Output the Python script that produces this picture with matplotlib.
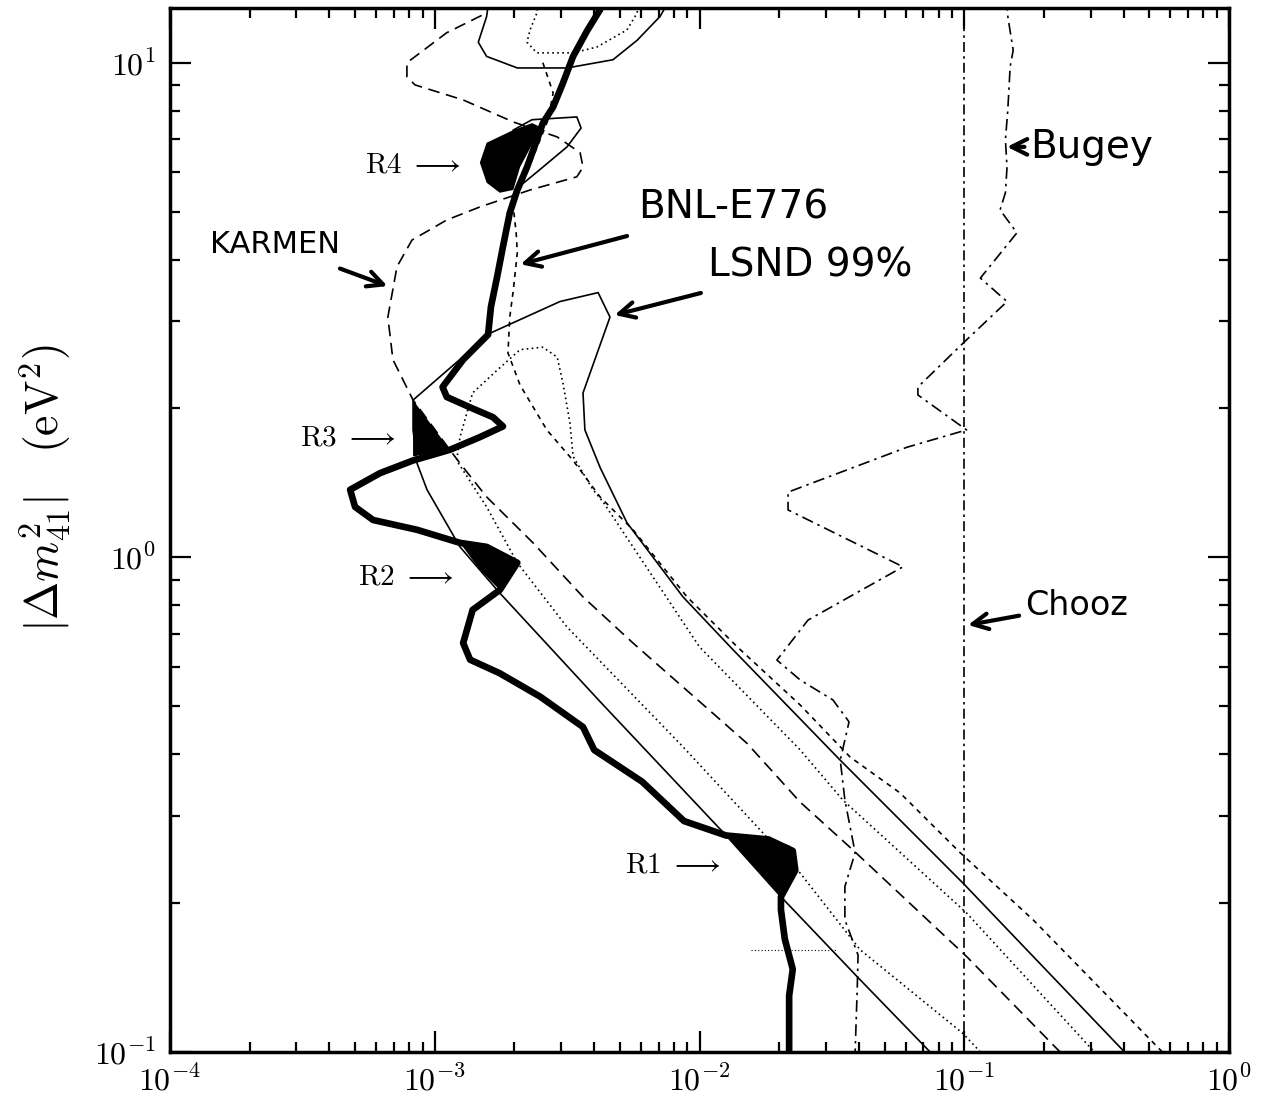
import matplotlib
matplotlib.use("agg")
import matplotlib.pyplot as plt
from matplotlib.ticker import NullFormatter

plt.rcParams['mathtext.fontset'] = 'cm'
plt.rcParams['font.family'] = ['DejaVu Sans']

# thick boundary (from top down to the bottom axis)
thick_x = [0.00445, 0.00421, 0.00376, 0.00333, 0.00305, 0.0028, 0.00256, 0.00243, 0.00223, 0.00205,
           0.00192, 0.00181, 0.00172, 0.00163, 0.00159, 0.00128, 0.00107, 0.00111, 0.00136, 0.00166,
           0.00181, 0.00148, 0.00114, 0.000828, 0.000621, 0.000479, 0.0005, 0.000585, 0.000857, 0.001245,
           0.00157, 0.00205, 0.00176, 0.00139, 0.00128, 0.00136, 0.00176, 0.0025, 0.00363, 0.0040,
           0.00607, 0.00874, 0.0126, 0.0182, 0.0225, 0.023, 0.0203, 0.0203, 0.021, 0.0225, 0.0218, 0.0218]
thick_y = [14.0, 12.8, 11.6, 10.3, 9.1, 8.14, 7.55, 6.98, 6.15, 5.53,
           4.97, 4.25, 3.69, 3.21, 2.82, 2.51, 2.21, 2.11, 2.01, 1.92,
           1.84, 1.75, 1.65, 1.57, 1.48, 1.37, 1.265, 1.19, 1.137, 1.07,
           1.05, 0.975, 0.859, 0.783, 0.671, 0.621, 0.583, 0.523, 0.454, 0.408,
           0.352, 0.293, 0.274, 0.269, 0.255, 0.233, 0.206, 0.194, 0.169, 0.147, 0.13, 0.095]

# LSND 99% band (solid)
lsnd99_x = [0.0743, 0.0404, 0.0203, 0.0126, 0.00421, 0.00176, 0.001245, 0.000935, 0.000857, 0.000828,
            0.000828, 0.00162, 0.00297, 0.00414, 0.00459, 0.00363, 0.00369, 0.00421, 0.00532, 0.00866,
            0.0134, 0.034, 0.0989, 0.403]
lsnd99_y = [0.1, 0.140, 0.206, 0.274, 0.511, 0.847, 1.05, 1.37, 1.55, 1.81,
            2.08, 2.84, 3.29, 3.43, 3.06, 2.15, 1.81, 1.52, 1.175, 0.832,
            0.65, 0.389, 0.2195, 0.1]
top99_x = [0.00162, 0.00157, 0.00146, 0.00157, 0.00205, 0.00316, 0.00471, 0.00581, 0.00709, 0.00808]
top99_y = [14.0, 12.4, 11.0, 10.3, 9.76, 9.76, 10.14, 11.1, 12.4, 14.0]
isl99_x = [0.00198, 0.00233, 0.00344, 0.00357, 0.00316, 0.00243, 0.00201]
isl99_y = [7.31, 7.67, 7.77, 7.38, 6.76, 6.01, 5.53]

# LSND 90% band (dotted)
lsnd90_x = [0.115, 0.0989, 0.0404, 0.024, 0.00866, 0.00316, 0.00205, 0.00157, 0.00121, 0.001245,
            0.00139, 0.00172, 0.0021, 0.00256, 0.0029, 0.00305, 0.00324, 0.00333, 0.00396, 0.00432,
            0.0100, 0.024, 0.0348, 0.102, 0.31]
lsnd90_y = [0.1, 0.109, 0.161, 0.230, 0.414, 0.723, 0.975, 1.265, 1.57, 1.75,
            2.15, 2.39, 2.63, 2.66, 2.54, 2.25, 1.87, 1.60, 1.37, 1.295,
            0.659, 0.408, 0.323, 0.191, 0.1]
top90_x = [0.0025, 0.00243, 0.00229, 0.00223, 0.00243, 0.00333, 0.0041, 0.00532, 0.00581, 0.00596]
top90_y = [14.0, 12.6, 11.65, 11.0, 10.47, 10.47, 10.76, 11.65, 12.6, 14.0]

# KARMEN (dashed)
karmen_x = [0.00165, 0.00152, 0.00111, 0.000785, 0.000785, 0.000842, 0.00128, 0.00198, 0.0029, 0.00354,
            0.00363, 0.00344, 0.00229, 0.00148, 0.00111, 0.00082, 0.00072, 0.000665, 0.000695, 0.000828,
            0.00114, 0.001245, 0.00157, 0.00235, 0.00363, 0.00561, 0.0151, 0.024, 0.038, 0.102, 0.23]
karmen_y = [14.0, 12.5, 11.5, 10.0, 9.37, 9.02, 8.41, 7.59, 7.08, 6.58,
            6.15, 5.88, 5.53, 5.11, 4.81, 4.38, 3.87, 3.06, 2.51, 2.08,
            1.65, 1.55, 1.325, 1.07, 0.832, 0.671, 0.421, 0.32, 0.256, 0.156, 0.1]

# BNL-E776 (short dashes)
bnl_x = [0.00256, 0.0028, 0.00268, 0.00229, 0.00196, 0.00203, 0.00205, 0.00198, 0.00192, 0.00189,
         0.0021, 0.00265, 0.00333, 0.00421, 0.00561, 0.00897, 0.0139, 0.024, 0.037, 0.0572,
         0.0964, 0.182, 0.56]
bnl_y = [10.0, 8.69, 7.67, 6.22, 5.36, 4.53, 4.13, 3.47, 3.06, 2.59,
         2.23, 1.81, 1.57, 1.325, 1.137, 0.832, 0.659, 0.503, 0.395, 0.334,
         0.253, 0.185, 0.1]

# Bugey (dash-dot)
bugey_x = [0.143, 0.146, 0.153, 0.149, 0.146, 0.143, 0.145, 0.143, 0.1365, 0.158,
           0.115, 0.145, 0.0989, 0.0668, 0.0668, 0.102, 0.0608, 0.0216, 0.0216, 0.0587,
           0.0257, 0.0196, 0.024, 0.0319, 0.0367, 0.034, 0.0354, 0.0387, 0.0354, 0.0354,
           0.0397, 0.0394, 0.0387]
bugey_y = [14.0, 12.4, 10.6, 9.81, 8.03, 6.98, 6.15, 5.46, 5.04, 4.53,
           3.67, 3.29, 2.71, 2.21, 2.13, 1.81, 1.67, 1.355, 1.247, 0.957,
           0.747, 0.62, 0.565, 0.515, 0.465, 0.389, 0.323, 0.253, 0.216, 0.185,
           0.157, 0.1335, 0.1]

# Chooz limit
chooz_x = 0.1

# small dotted stub
stub_x = [0.0156, 0.033]
stub_y = [0.161, 0.161]

# allowed regions R1..R4
r1_x = [0.0126, 0.0182, 0.022, 0.023, 0.0203]
r1_y = [0.274, 0.270, 0.261, 0.239, 0.206]
r2_x = [0.001245, 0.00157, 0.00205, 0.00176, 0.00148]
r2_y = [1.07, 1.05, 0.975, 0.859, 0.944]
r3_x = [0.000828, 0.000828, 0.00114]
r3_y = [2.08, 1.60, 1.65]
r4_x = [0.00148, 0.00157, 0.00198, 0.00233, 0.0025, 0.00235, 0.0021, 0.00198, 0.00176, 0.00157]
r4_y = [6.28, 6.89, 7.31, 7.55, 7.42, 6.89, 6.15, 5.53, 5.46, 5.72]

fig = plt.figure(figsize=(12.62, 11.01), dpi=100)
ax = fig.add_axes([0.1347, 0.0445, 0.8392, 0.9482])
ax.set_xscale('log')
ax.set_yscale('log')

thin = 1.2
ax.plot(lsnd99_x, lsnd99_y, color='black', lw=thin)
ax.plot(top99_x, top99_y, color='black', lw=thin)
ax.plot(isl99_x, isl99_y, color='black', lw=thin)
ax.plot(lsnd90_x, lsnd90_y, color='black', lw=thin, linestyle=(0, (1, 2)))
ax.plot(top90_x, top90_y, color='black', lw=thin, linestyle=(0, (1, 2)))
ax.plot(karmen_x, karmen_y, color='black', lw=thin, linestyle=(0, (7, 4)))
ax.plot(bnl_x, bnl_y, color='black', lw=thin, linestyle=(0, (3, 3)))
ax.plot(bugey_x, bugey_y, color='black', lw=thin, linestyle=(0, (7, 3, 1.5, 3)))
ax.axvline(chooz_x, color='black', lw=thin, linestyle=(0, (6, 2.5, 1.5, 2.5)))
ax.plot(stub_x, stub_y, color='black', lw=0.8, linestyle=(0, (1, 2)))
ax.plot(thick_x, thick_y, color='black', lw=4.8, solid_joinstyle='round', solid_capstyle='round')

for rx, ry in [(r1_x, r1_y), (r2_x, r2_y), (r3_x, r3_y), (r4_x, r4_y)]:
    ax.fill(rx, ry, color='black', lw=0)

# region labels
ax.text(5.45e-4, 6.22, r'$\mathrm{R4}\ \longrightarrow$', fontsize=21, va='center', ha='left')
ax.text(3.10e-4, 1.75, r'$\mathrm{R3}\ \longrightarrow$', fontsize=21, va='center', ha='left')
ax.text(5.13e-4, 0.913, r'$\mathrm{R2}\ \longrightarrow$', fontsize=21, va='center', ha='left')
ax.text(5.23e-3, 0.239, r'$\mathrm{R1}\ \longrightarrow$', fontsize=21, va='center', ha='left')

# hand written labels
arrow = dict(arrowstyle='->', lw=3, color='black', mutation_scale=28)
ax.annotate('KARMEN', xy=(6.78e-4, 3.52), xytext=(2.49e-4, 4.29), fontsize=22,
            ha='center', va='center', arrowprops=dict(arrow, shrinkA=14))
ax.annotate('BNL-E776', xy=(2.06e-3, 3.90), xytext=(1.34e-2, 5.09), fontsize=28,
            ha='center', va='center', arrowprops=dict(arrow, shrinkA=18))
ax.annotate('LSND 99%', xy=(4.67e-3, 3.08), xytext=(2.62e-2, 3.90), fontsize=28,
            ha='center', va='center', arrowprops=dict(arrow, shrinkA=18))
ax.annotate('Bugey', xy=(0.145, 6.76), xytext=(0.177, 6.76), fontsize=28,
            ha='left', va='center', arrowprops=dict(arrow, shrinkA=2, shrinkB=0))
ax.annotate('Chooz', xy=(0.1033, 0.730), xytext=(0.169, 0.80), fontsize=24,
            ha='left', va='center', arrowprops=dict(arrow, shrinkA=2, shrinkB=0))

ax.set_xlim(1e-4, 1)
ax.set_ylim(0.1, 12.9)

ax.set_xticks([1e-4, 1e-3, 1e-2, 1e-1, 1])
ax.set_xticklabels([r'$10^{-4}$', r'$10^{-3}$', r'$10^{-2}$', r'$10^{-1}$', r'$10^{0}$'])
ax.set_yticks([0.1, 1, 10])
ax.set_yticklabels([r'$10^{-1}$', r'$10^{0}$', r'$10^{1}$'])
ax.xaxis.set_minor_formatter(NullFormatter())
ax.yaxis.set_minor_formatter(NullFormatter())
ax.tick_params(which='both', direction='in', top=True, right=True, labelsize=23, width=1.6)
ax.tick_params(which='major', length=15, pad=10)
ax.tick_params(which='minor', length=7)
for s in ax.spines.values():
    s.set_linewidth(2.5)

ax.set_ylabel(r'$|\Delta m^2_{41}|\quad(\mathrm{eV}^2)$', fontsize=33)
ax.yaxis.set_label_coords(-0.092, 0.54)

fig.savefig("out.png", dpi=100)
